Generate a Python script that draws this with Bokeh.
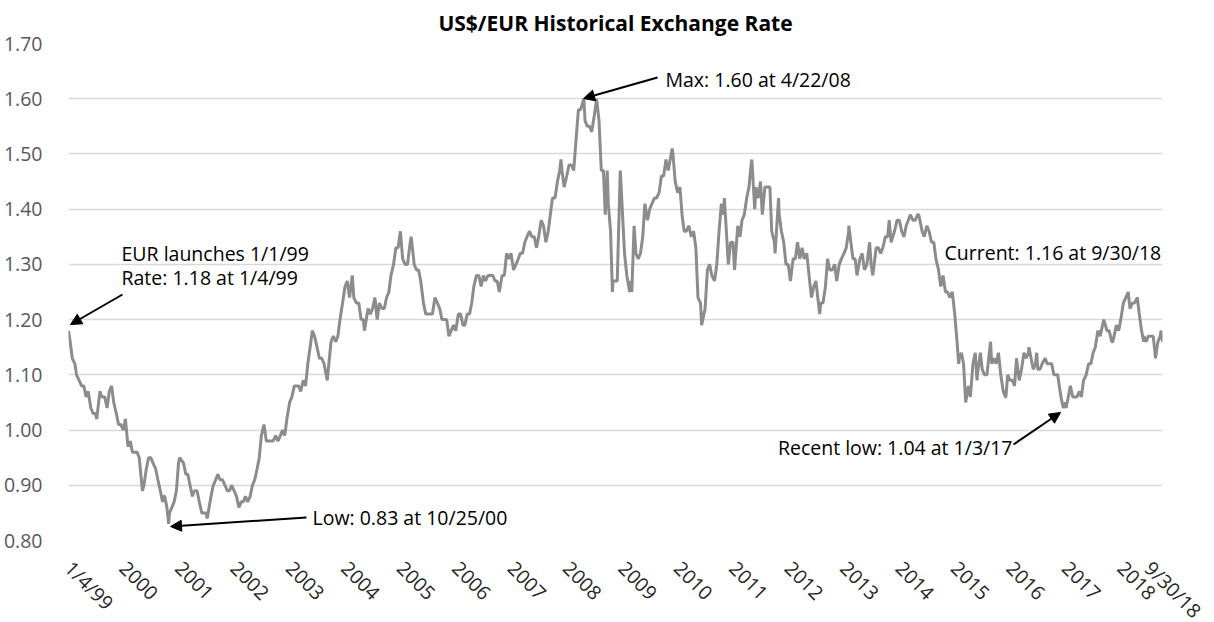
import pandas as pd
from bokeh.plotting import figure
from bokeh.models import (Range1d, FixedTicker, Label, Arrow, NormalHead,
                          NumeralTickFormatter)
from bokeh.embed import file_html
from bokeh.resources import INLINE
from math import pi

# ---------------- data ----------------
dates = [
 "1999-01-04","1999-01-15","1999-01-29","1999-02-15","1999-02-26","1999-03-15","1999-03-31","1999-04-15","1999-04-30",
 "1999-05-14","1999-05-31","1999-06-15","1999-06-30","1999-07-09","1999-07-30","1999-08-13","1999-08-31","1999-09-15",
 "1999-09-30","1999-10-15","1999-10-29","1999-11-15","1999-11-30","1999-12-15","1999-12-31",
 "2000-01-14","2000-01-31","2000-02-15","2000-02-29","2000-03-15","2000-03-31","2000-04-14","2000-04-28","2000-05-05",
 "2000-05-15","2000-05-31","2000-06-15","2000-06-30","2000-07-14","2000-07-31","2000-08-15","2000-08-31","2000-09-15",
 "2000-09-22","2000-09-29","2000-10-13","2000-10-25","2000-10-31","2000-11-15","2000-11-30","2000-12-15","2000-12-29",
 "2001-01-05","2001-01-31","2001-02-15","2001-02-28","2001-03-15","2001-03-30","2001-04-13","2001-04-30","2001-05-15",
 "2001-05-31","2001-06-15","2001-06-29","2001-07-06","2001-07-31","2001-08-15","2001-08-31","2001-09-14","2001-09-28",
 "2001-10-15","2001-10-31","2001-11-15","2001-11-30","2001-12-14","2001-12-31",
 "2002-01-15","2002-01-31","2002-02-15","2002-02-28","2002-03-15","2002-03-29","2002-04-15","2002-04-30","2002-05-15",
 "2002-05-31","2002-06-14","2002-06-28","2002-07-15","2002-07-31","2002-08-15","2002-08-30","2002-09-13","2002-09-30",
 "2002-10-15","2002-10-31","2002-11-15","2002-11-29","2002-12-13","2002-12-31",
 "2003-01-15","2003-01-31","2003-02-14","2003-02-28","2003-03-14","2003-03-31","2003-04-15","2003-04-30","2003-05-15",
 "2003-05-30","2003-06-13","2003-06-30","2003-07-15","2003-07-31","2003-08-15","2003-08-29","2003-09-05","2003-09-30",
 "2003-10-15","2003-10-31","2003-11-14","2003-11-28","2003-12-15","2003-12-31",
 "2004-01-15","2004-01-30","2004-02-17","2004-02-27","2004-03-15","2004-03-31","2004-04-15","2004-04-30","2004-05-07",
 "2004-05-31","2004-06-15","2004-06-30","2004-07-15","2004-07-30","2004-08-13","2004-08-31","2004-09-15","2004-09-30",
 "2004-10-15","2004-10-29","2004-11-15","2004-11-30","2004-12-15","2004-12-30",
 "2005-01-14","2005-01-31","2005-02-15","2005-02-28","2005-03-11","2005-03-31","2005-04-15","2005-04-29","2005-05-13",
 "2005-05-31","2005-06-15","2005-06-30","2005-07-15","2005-07-29","2005-08-15","2005-08-31","2005-09-15","2005-09-30",
 "2005-10-14","2005-10-31","2005-11-15","2005-11-30","2005-12-15","2005-12-30",
 "2006-01-16","2006-01-31","2006-02-15","2006-02-28","2006-03-15","2006-03-31","2006-04-14","2006-04-28","2006-05-15",
 "2006-05-31","2006-06-15","2006-06-30","2006-07-14","2006-07-31","2006-08-15","2006-08-31","2006-09-15","2006-09-29",
 "2006-10-13","2006-10-31","2006-11-15","2006-11-30","2006-12-15","2006-12-29",
 "2007-01-15","2007-01-31","2007-02-15","2007-02-28","2007-03-15","2007-03-30","2007-04-13","2007-04-30","2007-05-15",
 "2007-05-31","2007-06-15","2007-06-29","2007-07-16","2007-07-31","2007-08-16","2007-08-31","2007-09-14","2007-09-28",
 "2007-10-15","2007-10-31","2007-11-15","2007-11-23","2007-11-30","2007-12-14","2007-12-31",
 "2008-01-15","2008-01-31","2008-02-15","2008-02-29","2008-03-17","2008-03-31","2008-04-22","2008-04-30","2008-05-15",
 "2008-05-30","2008-06-13","2008-06-30","2008-07-15","2008-07-31","2008-08-15","2008-08-29","2008-09-10","2008-09-23",
 "2008-09-30","2008-10-15","2008-10-27","2008-10-31","2008-11-14","2008-11-28","2008-12-18","2008-12-31",
 "2009-01-15","2009-01-30","2009-02-18","2009-02-27","2009-03-04","2009-03-19","2009-03-31","2009-04-15","2009-04-30",
 "2009-05-15","2009-05-29","2009-06-15","2009-06-30","2009-07-15","2009-07-31","2009-08-14","2009-08-31","2009-09-15",
 "2009-09-30","2009-10-15","2009-10-30","2009-11-25","2009-11-30","2009-12-15","2009-12-31",
 "2010-01-15","2010-01-29","2010-02-12","2010-02-26","2010-03-15","2010-03-31","2010-04-15","2010-04-30","2010-05-14",
 "2010-05-31","2010-06-07","2010-06-30","2010-07-15","2010-07-30","2010-08-13","2010-08-31","2010-09-15","2010-09-30",
 "2010-10-15","2010-10-29","2010-11-04","2010-11-30","2010-12-15","2010-12-31",
 "2011-01-10","2011-01-31","2011-02-15","2011-02-28","2011-03-15","2011-03-31","2011-04-15","2011-04-29","2011-05-04",
 "2011-05-23","2011-05-31","2011-06-15","2011-06-30","2011-07-12","2011-07-29","2011-08-15","2011-08-31","2011-09-12",
 "2011-09-30","2011-10-04","2011-10-27","2011-10-31","2011-11-15","2011-11-30","2011-12-15","2011-12-30",
 "2012-01-13","2012-01-31","2012-02-15","2012-02-29","2012-03-15","2012-03-30","2012-04-13","2012-04-30","2012-05-15",
 "2012-05-31","2012-06-15","2012-06-29","2012-07-24","2012-07-31","2012-08-15","2012-08-31","2012-09-14","2012-09-28",
 "2012-10-15","2012-10-31","2012-11-13","2012-11-30","2012-12-14","2012-12-31",
 "2013-01-15","2013-01-31","2013-02-01","2013-02-28","2013-03-15","2013-03-27","2013-04-15","2013-04-30","2013-05-15",
 "2013-05-31","2013-06-18","2013-06-28","2013-07-09","2013-07-31","2013-08-15","2013-08-30","2013-09-13","2013-09-30",
 "2013-10-15","2013-10-25","2013-10-31","2013-11-07","2013-11-29","2013-12-16","2013-12-31",
 "2014-01-15","2014-01-31","2014-02-14","2014-02-28","2014-03-13","2014-03-31","2014-04-15","2014-04-30","2014-05-08",
 "2014-05-30","2014-06-13","2014-06-30","2014-07-15","2014-07-31","2014-08-15","2014-08-29","2014-09-15","2014-09-30",
 "2014-10-15","2014-10-31","2014-11-14","2014-11-28","2014-12-15","2014-12-31",
 "2015-01-15","2015-01-26","2015-01-30","2015-02-13","2015-02-27","2015-03-13","2015-03-31","2015-04-13","2015-04-30",
 "2015-05-15","2015-05-27","2015-05-29","2015-06-18","2015-06-30","2015-07-15","2015-07-31","2015-08-24","2015-08-31",
 "2015-09-15","2015-09-30","2015-10-15","2015-10-30","2015-11-16","2015-11-30","2015-12-03","2015-12-15","2015-12-31",
 "2016-01-15","2016-01-29","2016-02-11","2016-02-29","2016-03-15","2016-03-31","2016-04-15","2016-04-29","2016-05-03",
 "2016-05-31","2016-06-15","2016-06-23","2016-06-30","2016-07-15","2016-07-29","2016-08-18","2016-08-31","2016-09-15",
 "2016-09-30","2016-10-14","2016-10-31","2016-11-08","2016-11-30","2016-12-15","2016-12-30",
 "2017-01-03","2017-01-31","2017-02-15","2017-02-28","2017-03-15","2017-03-31","2017-04-13","2017-04-28","2017-05-15",
 "2017-05-31","2017-06-15","2017-06-30","2017-07-14","2017-07-31","2017-08-15","2017-08-31","2017-09-08","2017-09-29",
 "2017-10-13","2017-10-31","2017-11-07","2017-11-30","2017-12-15","2017-12-29",
 "2018-01-15","2018-01-31","2018-02-16","2018-02-28","2018-03-15","2018-03-30","2018-04-17","2018-04-30","2018-05-15",
 "2018-05-29","2018-05-31","2018-06-14","2018-06-29","2018-07-13","2018-07-31","2018-08-15","2018-08-31","2018-09-14",
 "2018-09-21","2018-09-30",
]
rates = [
 1.18,1.16,1.13,1.12,1.10,1.09,1.08,1.08,1.06,
 1.07,1.04,1.03,1.03,1.02,1.07,1.06,1.06,1.04,
 1.07,1.08,1.05,1.03,1.01,1.01,1.00,
 1.02,0.97,0.98,0.96,0.96,0.96,0.95,0.91,0.89,
 0.90,0.93,0.95,0.95,0.94,0.93,0.91,0.89,0.87,
 0.88,0.88,0.86,0.83,0.85,0.86,0.87,0.89,0.94,
 0.95,0.94,0.92,0.92,0.90,0.88,0.89,0.89,0.87,
 0.85,0.85,0.85,0.84,0.88,0.90,0.91,0.92,0.91,
 0.91,0.90,0.89,0.89,0.90,0.89,
 0.88,0.86,0.87,0.87,0.88,0.87,0.88,0.90,0.91,
 0.93,0.95,0.99,1.01,0.98,0.98,0.98,0.98,0.99,
 0.98,0.99,1.00,0.99,1.02,1.05,
 1.06,1.08,1.08,1.08,1.07,1.09,1.08,1.12,1.15,
 1.18,1.17,1.15,1.13,1.13,1.12,1.10,1.09,1.16,
 1.17,1.16,1.17,1.20,1.23,1.26,
 1.27,1.24,1.28,1.24,1.23,1.23,1.20,1.20,1.18,
 1.22,1.21,1.22,1.24,1.20,1.23,1.22,1.22,1.24,
 1.25,1.28,1.30,1.33,1.33,1.36,
 1.31,1.30,1.30,1.33,1.35,1.30,1.29,1.29,1.27,
 1.23,1.21,1.21,1.21,1.21,1.24,1.23,1.22,1.20,
 1.20,1.20,1.17,1.18,1.19,1.18,
 1.21,1.21,1.19,1.19,1.21,1.21,1.23,1.26,1.28,
 1.28,1.26,1.28,1.27,1.28,1.28,1.28,1.27,1.27,
 1.25,1.28,1.28,1.32,1.31,1.32,
 1.29,1.30,1.31,1.32,1.32,1.34,1.35,1.36,1.35,
 1.35,1.33,1.35,1.38,1.37,1.34,1.36,1.39,1.42,
 1.42,1.45,1.47,1.49,1.47,1.44,1.46,
 1.48,1.48,1.47,1.52,1.58,1.58,1.60,1.56,1.55,
 1.55,1.54,1.57,1.60,1.56,1.47,1.47,1.39,1.47,
 1.41,1.36,1.25,1.27,1.27,1.27,1.47,1.40,
 1.32,1.28,1.25,1.27,1.25,1.37,1.32,1.31,1.32,
 1.35,1.41,1.38,1.40,1.41,1.42,1.42,1.43,1.46,
 1.46,1.49,1.47,1.51,1.50,1.45,1.43,
 1.44,1.39,1.36,1.36,1.37,1.35,1.36,1.33,1.24,
 1.23,1.19,1.22,1.29,1.30,1.28,1.27,1.30,1.36,
 1.41,1.39,1.42,1.30,1.34,1.34,
 1.29,1.37,1.35,1.38,1.39,1.42,1.44,1.48,1.49,
 1.40,1.44,1.42,1.45,1.39,1.44,1.44,1.44,1.36,
 1.34,1.32,1.42,1.39,1.36,1.34,1.30,1.30,
 1.27,1.31,1.31,1.34,1.31,1.33,1.31,1.32,1.28,
 1.24,1.26,1.27,1.21,1.23,1.23,1.26,1.31,1.29,
 1.29,1.30,1.27,1.30,1.31,1.32,
 1.33,1.36,1.37,1.31,1.31,1.28,1.31,1.32,1.29,
 1.30,1.34,1.30,1.28,1.33,1.33,1.32,1.33,1.35,
 1.35,1.38,1.36,1.34,1.36,1.38,1.38,
 1.36,1.35,1.37,1.38,1.39,1.38,1.38,1.39,1.39,
 1.36,1.35,1.37,1.36,1.34,1.34,1.31,1.29,1.26,
 1.28,1.25,1.25,1.24,1.25,1.21,
 1.16,1.12,1.13,1.14,1.12,1.05,1.08,1.06,1.12,
 1.14,1.09,1.10,1.14,1.11,1.10,1.10,1.16,1.12,
 1.13,1.12,1.14,1.10,1.07,1.06,1.06,1.10,1.09,
 1.09,1.08,1.13,1.09,1.11,1.14,1.13,1.14,1.15,
 1.11,1.12,1.14,1.11,1.11,1.12,1.13,1.12,1.12,
 1.12,1.10,1.10,1.10,1.06,1.04,1.05,
 1.04,1.08,1.06,1.06,1.06,1.07,1.06,1.09,1.10,
 1.12,1.12,1.14,1.15,1.18,1.17,1.19,1.20,1.18,
 1.18,1.16,1.16,1.19,1.18,1.20,
 1.23,1.24,1.25,1.22,1.23,1.23,1.24,1.21,1.18,
 1.16,1.17,1.16,1.17,1.17,1.17,1.13,1.16,1.17,
 1.18,1.16,
]
tick_dates = ["1999-01-04"] + [f"{y}-01-01" for y in range(2000, 2019)] + ["2018-09-30"]
tick_labels = ["1/4/99"] + [str(y) for y in range(2000, 2019)] + ["9/30/18"]
y_ticks = [0.80, 0.90, 1.00, 1.10, 1.20, 1.30, 1.40, 1.50, 1.60, 1.70]

# ---------------- helpers ----------------
start = pd.Timestamp(dates[0])
def day(d):
    return int((pd.Timestamp(d) - start).days)

xs = [day(d) for d in dates]
x_end = day(dates[-1])
tick_x = [day(d) for d in tick_dates]

FRAME_W, FRAME_H = 1094, 497
Y0, Y1 = 0.80, 1.70
FONT = "Open Sans"

p = figure(frame_width=FRAME_W, frame_height=FRAME_H,
           x_range=Range1d(0, x_end), y_range=Range1d(Y0, Y1),
           output_backend="svg", toolbar_location=None,
           min_border_left=59, min_border_right=45, min_border_top=36,
           min_border_bottom=78)
p.outline_line_color = None
p.background_fill_color = "white"

p.title.text = "US$/EUR Historical Exchange Rate"
p.title.align = "center"
p.title.text_font = FONT
p.title.text_font_size = "21px"
p.title.text_font_style = "bold"
p.title.text_color = "black"
p.title.standoff = 13

# y axis
p.yaxis.ticker = FixedTicker(ticks=y_ticks)
p.yaxis.formatter = NumeralTickFormatter(format="0.00")
p.yaxis.axis_line_color = None
p.yaxis.major_tick_line_color = None
p.yaxis.minor_tick_line_color = None
p.yaxis.major_label_text_font = FONT
p.yaxis.major_label_text_font_size = "19.5px"
p.yaxis.major_label_text_color = "#595959"
p.yaxis.major_label_standoff = 20

# x axis
p.xaxis.ticker = FixedTicker(ticks=tick_x)
p.xaxis.major_label_overrides = {tx: lab for tx, lab in zip(tick_x, tick_labels)}
p.xaxis.major_label_orientation = -pi / 4
p.xaxis.axis_line_color = None
p.xaxis.major_tick_line_color = None
p.xaxis.minor_tick_line_color = None
p.xaxis.major_label_text_font = FONT
p.xaxis.major_label_text_font_size = "19.5px"
p.xaxis.major_label_text_color = "#262626"
p.xaxis.major_label_standoff = 18

p.xgrid.grid_line_color = None
p.ygrid.ticker = FixedTicker(ticks=y_ticks)
p.ygrid.grid_line_color = "#d9d9d9"
p.ygrid.grid_line_width = 1.5

p.line(xs, rates, line_color="#8c8c8c", line_width=3)

# ---------------- annotations ----------------
px_day = x_end / FRAME_W          # days per pixel
px_val = (Y1 - Y0) / FRAME_H      # value per pixel

def ann_x(page_px):
    return (page_px - 67) * px_day

def ann_y(page_py):
    return Y1 - (page_py - 44) * px_val

def text(t, px, py, align="left"):
    p.add_layout(Label(x=ann_x(px), y=ann_y(py), text=t, text_font=FONT,
                       text_font_size="19.5px", text_color="black",
                       text_baseline="middle", text_align=align))

def arrow(x0, y0, x1, y1):
    p.add_layout(Arrow(x_start=ann_x(x0), y_start=ann_y(y0),
                       x_end=ann_x(x1), y_end=ann_y(y1),
                       line_color="black", line_width=2,
                       end=NormalHead(size=11, fill_color="black",
                                      line_color="black", line_width=1)))

text("EUR launches 1/1/99", 120, 254)
text("Rate: 1.18 at 1/4/99", 120, 278)
arrow(121, 295, 69, 325)

text("Low: 0.83 at 10/25/00", 311, 518)
arrow(305, 518, 169, 527)

text("Max: 1.60 at 4/22/08", 664, 80)
arrow(656, 78, 582, 99)

text("Recent low: 1.04 at 1/3/17", 1011, 448, align="right")
arrow(1012, 445, 1059, 413)

text("Current: 1.16 at 9/30/18", 943, 253)

open("out.html", "w").write(file_html(p, INLINE))
